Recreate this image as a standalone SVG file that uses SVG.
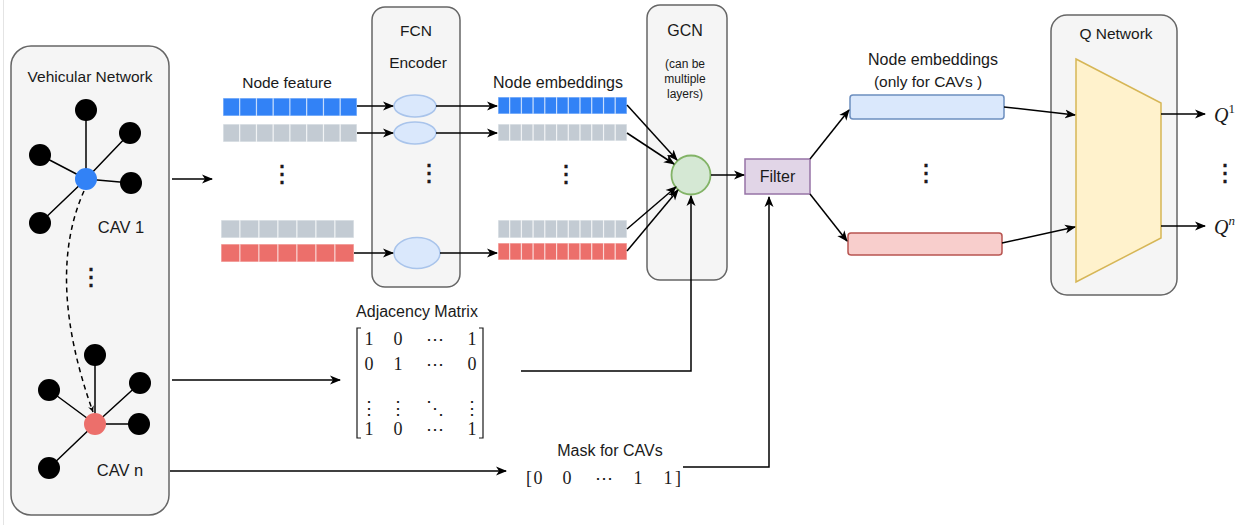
<svg xmlns="http://www.w3.org/2000/svg" width="1252" height="525" viewBox="0 0 1252 525">
<style>
.t{font-family:"Liberation Sans",Arial,sans-serif;font-size:15.5px;fill:#1a1a1a;text-anchor:middle}
.s{font-size:12px}
.m{font-family:"Liberation Serif","DejaVu Serif",serif;font-size:18px;fill:#1a1a1a;text-anchor:middle}
.q{font-family:"Liberation Serif","DejaVu Serif",serif;font-style:italic;font-size:20px;fill:#1a1a1a}
.box{fill:#f5f5f5;stroke:#666;stroke-width:1.5}
.blk{fill:#000}
.edge{stroke:#000;stroke-width:1.5}
.cb{fill:#3282f6;stroke:#fff;stroke-opacity:.55;stroke-width:1.2}
.cg{fill:#c3cbd3;stroke:#fff;stroke-opacity:.6;stroke-width:1.2}
.cr{fill:#ec6f6b;stroke:#fff;stroke-opacity:.55;stroke-width:1.2}
.ell{fill:#dae8fc;stroke:#a9c4eb;stroke-width:1.5}
.c{fill:none;stroke:#000;stroke-width:1.5}
.dots{font-family:"DejaVu Sans",sans-serif;font-size:24px;fill:#1a1a1a;text-anchor:middle;stroke:#1a1a1a;stroke-width:0.6}
</style>
<defs>
<marker id="ah" markerUnits="userSpaceOnUse" markerWidth="12" markerHeight="10" refX="10" refY="5" orient="auto">
<path d="M0,0.5 L11,5 L0,9.5 L3,5 z" fill="#000"/>
</marker>
<marker id="ahs" markerUnits="userSpaceOnUse" markerWidth="8" markerHeight="8" refX="6" refY="3" orient="auto">
<path d="M0,0 L6,3 L0,6 L2,3 z" fill="#000"/>
</marker>
</defs>
<rect width="1252" height="525" fill="#fff"/>
<line x1="3.5" y1="0" x2="3.5" y2="525" stroke="#e4e4e4" stroke-width="1"/>

<g id="vehicular-network">
<rect class="box" x="11" y="46" width="158" height="469" rx="20"/>
<text class="t" x="90" y="82">Vehicular Network</text>
<g class="c">
<path d="M86,179 L86,110 M86,179 L130,133 M86,179 L40,155 M86,179 L131,183 M86,179 L40,223"/>
<path d="M95,424 L95,355 M95,424 L140,383 M95,424 L49,390 M95,424 L139,424 M95,424 L49,468"/>
</g>
<g class="blk">
<circle cx="86" cy="110" r="11"/><circle cx="130" cy="133" r="11"/><circle cx="40" cy="155" r="11"/><circle cx="131" cy="183" r="11"/><circle cx="40" cy="223" r="11"/>
<circle cx="95" cy="355" r="11"/><circle cx="140" cy="383" r="11"/><circle cx="49" cy="390" r="11"/><circle cx="139" cy="424" r="11"/><circle cx="49" cy="468" r="11"/>
</g>
<circle cx="86" cy="179" r="11" fill="#3282f6"/>
<circle cx="95" cy="424" r="11" fill="#ec6f6b"/>
<path d="M84,191 Q45,278 93,412" fill="none" stroke="#000" stroke-width="1.5" stroke-dasharray="5,4" marker-end="url(#ahs)"/>
<text class="t" x="121" y="233" style="font-size:16.5px">CAV 1</text>
<text class="dots" x="91" y="285">⋮</text>
<text class="t" x="120" y="476" style="font-size:16.5px">CAV n</text>
</g>

<g id="node-feature">
<text class="t" x="287" y="88">Node feature</text>
<g class="cb">
<rect x="223" y="98" width="16.75" height="18"/><rect x="239.75" y="98" width="16.75" height="18"/><rect x="256.5" y="98" width="16.75" height="18"/><rect x="273.25" y="98" width="16.75" height="18"/><rect x="290" y="98" width="16.75" height="18"/><rect x="306.75" y="98" width="16.75" height="18"/><rect x="323.5" y="98" width="16.75" height="18"/><rect x="340.25" y="98" width="16.75" height="18"/>
</g>
<g class="cg">
<rect x="223" y="124" width="16.75" height="18"/><rect x="239.75" y="124" width="16.75" height="18"/><rect x="256.5" y="124" width="16.75" height="18"/><rect x="273.25" y="124" width="16.75" height="18"/><rect x="290" y="124" width="16.75" height="18"/><rect x="306.75" y="124" width="16.75" height="18"/><rect x="323.5" y="124" width="16.75" height="18"/><rect x="340.25" y="124" width="16.75" height="18"/>
<rect x="221" y="220" width="19" height="18"/><rect x="240" y="220" width="19" height="18"/><rect x="259" y="220" width="19" height="18"/><rect x="278" y="220" width="19" height="18"/><rect x="297" y="220" width="19" height="18"/><rect x="316" y="220" width="19" height="18"/><rect x="335" y="220" width="19" height="18"/>
</g>
<g class="cr">
<rect x="221" y="244" width="19" height="18"/><rect x="240" y="244" width="19" height="18"/><rect x="259" y="244" width="19" height="18"/><rect x="278" y="244" width="19" height="18"/><rect x="297" y="244" width="19" height="18"/><rect x="316" y="244" width="19" height="18"/><rect x="335" y="244" width="19" height="18"/>
</g>
<text class="dots" x="282" y="182">⋮</text>
</g>

<g id="fcn-encoder">
<rect class="box" x="372" y="7" width="88" height="280" rx="13"/>
<text class="t" x="416" y="36">FCN</text>
<text class="t" x="418" y="68">Encoder</text>
<ellipse class="ell" cx="415" cy="106" rx="21" ry="11"/>
<ellipse class="ell" cx="415" cy="133" rx="21" ry="11"/>
<ellipse class="ell" cx="417" cy="253" rx="23" ry="15.5"/>
<text class="dots" x="429" y="181">⋮</text>
</g>

<g id="node-embeddings">
<text class="t" x="558" y="88" style="font-size:16px">Node embeddings</text>
<g class="cb">
<rect x="498" y="97" width="11.73" height="17"/><rect x="509.73" y="97" width="11.73" height="17"/><rect x="521.45" y="97" width="11.73" height="17"/><rect x="533.18" y="97" width="11.73" height="17"/><rect x="544.9" y="97" width="11.73" height="17"/><rect x="556.64" y="97" width="11.73" height="17"/><rect x="568.36" y="97" width="11.73" height="17"/><rect x="580.09" y="97" width="11.73" height="17"/><rect x="591.82" y="97" width="11.73" height="17"/><rect x="603.55" y="97" width="11.73" height="17"/><rect x="615.27" y="97" width="11.73" height="17"/>
</g>
<g class="cg">
<rect x="498" y="124" width="11.73" height="17"/><rect x="509.73" y="124" width="11.73" height="17"/><rect x="521.45" y="124" width="11.73" height="17"/><rect x="533.18" y="124" width="11.73" height="17"/><rect x="544.9" y="124" width="11.73" height="17"/><rect x="556.64" y="124" width="11.73" height="17"/><rect x="568.36" y="124" width="11.73" height="17"/><rect x="580.09" y="124" width="11.73" height="17"/><rect x="591.82" y="124" width="11.73" height="17"/><rect x="603.55" y="124" width="11.73" height="17"/><rect x="615.27" y="124" width="11.73" height="17"/>
<rect x="498" y="220" width="11.73" height="18"/><rect x="509.73" y="220" width="11.73" height="18"/><rect x="521.45" y="220" width="11.73" height="18"/><rect x="533.18" y="220" width="11.73" height="18"/><rect x="544.9" y="220" width="11.73" height="18"/><rect x="556.64" y="220" width="11.73" height="18"/><rect x="568.36" y="220" width="11.73" height="18"/><rect x="580.09" y="220" width="11.73" height="18"/><rect x="591.82" y="220" width="11.73" height="18"/><rect x="603.55" y="220" width="11.73" height="18"/><rect x="615.27" y="220" width="11.73" height="18"/>
</g>
<g class="cr">
<rect x="498" y="243" width="11.73" height="17"/><rect x="509.73" y="243" width="11.73" height="17"/><rect x="521.45" y="243" width="11.73" height="17"/><rect x="533.18" y="243" width="11.73" height="17"/><rect x="544.9" y="243" width="11.73" height="17"/><rect x="556.64" y="243" width="11.73" height="17"/><rect x="568.36" y="243" width="11.73" height="17"/><rect x="580.09" y="243" width="11.73" height="17"/><rect x="591.82" y="243" width="11.73" height="17"/><rect x="603.55" y="243" width="11.73" height="17"/><rect x="615.27" y="243" width="11.73" height="17"/>
</g>
<text class="dots" x="566" y="182">⋮</text>
</g>

<g id="gcn">
<rect class="box" x="647" y="5" width="80" height="275" rx="13"/>
<text class="t" x="685" y="36" style="font-size:16px">GCN</text>
<text class="t s" x="685" y="68">(can be</text>
<text class="t s" x="685" y="83">multiple</text>
<text class="t s" x="685" y="98">layers)</text>
<circle cx="691" cy="175" r="19.5" fill="#d5e8d4" stroke="#82b366" stroke-width="1.8"/>
</g>

<g id="filter">
<rect x="745" y="159" width="65" height="35" fill="#e1d5e7" stroke="#9673a6" stroke-width="1.5"/>
<text class="t" x="777.5" y="182" style="font-size:16px">Filter</text>
</g>

<g id="cav-embeddings">
<text class="t" x="933" y="65" style="font-size:16px">Node embeddings</text>
<text class="t" x="928" y="87">(only for CAVs )</text>
<rect x="850" y="95" width="154" height="24" rx="3" fill="#dae8fc" stroke="#6c8ebf" stroke-width="1.5"/>
<rect x="848" y="233" width="154" height="22" rx="3" fill="#f8cecc" stroke="#b85450" stroke-width="1.5"/>
<text class="dots" x="926" y="181">⋮</text>
</g>

<g id="q-network">
<rect class="box" x="1051" y="15" width="126" height="280" rx="16"/>
<text class="t" x="1116" y="39">Q Network</text>
<polygon points="1076,59 1161,103 1161,238 1076,282" fill="#fff2cc" stroke="#d6b656" stroke-width="1.5"/>
</g>

<g id="q-outputs">
<text class="q" x="1214" y="122">Q<tspan font-style="normal" font-size="13" dy="-9">1</tspan></text>
<text class="dots" x="1225" y="181">⋮</text>
<text class="q" x="1214" y="234">Q<tspan font-size="13" dy="-9">n</tspan></text>
</g>

<g id="adjacency-matrix">
<text class="t" x="417" y="317" style="font-size:16px">Adjacency Matrix</text>
<path d="M361,328 H357 V438 H361 M479,328 H483 V438 H479" fill="none" stroke="#1a1a1a" stroke-width="1.2"/>
<g class="m">
<text x="369" y="345">1</text><text x="398" y="345">0</text><text x="435" y="345">⋯</text><text x="472" y="345">1</text>
<text x="369" y="370">0</text><text x="398" y="370">1</text><text x="435" y="370">⋯</text><text x="472" y="370">0</text>
<text x="369" y="414">⋮</text><text x="398" y="414">⋮</text><text x="435" y="414">⋱</text><text x="472" y="414">⋮</text>
<text x="369" y="435">1</text><text x="398" y="435">0</text><text x="435" y="435">⋯</text><text x="472" y="435">1</text>
</g>
</g>

<g id="mask">
<text class="t" x="610" y="456" style="font-size:16px">Mask for CAVs</text>
<g class="m">
<text x="529" y="484">[</text><text x="538" y="484">0</text><text x="567" y="484">0</text><text x="604" y="484">⋯</text><text x="638" y="484">1</text><text x="668" y="484">1</text><text x="678" y="484">]</text>
</g>
</g>

<g id="connectors" class="edge" fill="none">
<path d="M172,179 H212" marker-end="url(#ah)"/>
<path d="M172,380 H340" marker-end="url(#ah)"/>
<path d="M170,471 H506" marker-end="url(#ah)"/>
<path d="M357,106 H393" marker-end="url(#ah)"/>
<path d="M357,133 H393" marker-end="url(#ah)"/>
<path d="M354,253 H393" marker-end="url(#ah)"/>
<path d="M436,106 H497" marker-end="url(#ah)"/>
<path d="M436,133 H497" marker-end="url(#ah)"/>
<path d="M440,253 H497" marker-end="url(#ah)"/>
<path d="M627,105 L677,160" marker-end="url(#ah)"/>
<path d="M627,133 L674,164" marker-end="url(#ah)"/>
<path d="M627,229 L676,187" marker-end="url(#ah)"/>
<path d="M627,251 L678,190" marker-end="url(#ah)"/>
<path d="M521,371 H691 V196" marker-end="url(#ah)"/>
<path d="M711,175 H744" marker-end="url(#ah)"/>
<path d="M683,467 H769 V197" marker-end="url(#ah)"/>
<path d="M810,159 L849,110" marker-end="url(#ah)"/>
<path d="M810,194 L847,241" marker-end="url(#ah)"/>
<path d="M1004,107 L1075,115" marker-end="url(#ah)"/>
<path d="M1002,243 L1075,227" marker-end="url(#ah)"/>
<path d="M1161,114 H1205" marker-end="url(#ah)"/>
<path d="M1161,226 H1205" marker-end="url(#ah)"/>
</g>
</svg>
